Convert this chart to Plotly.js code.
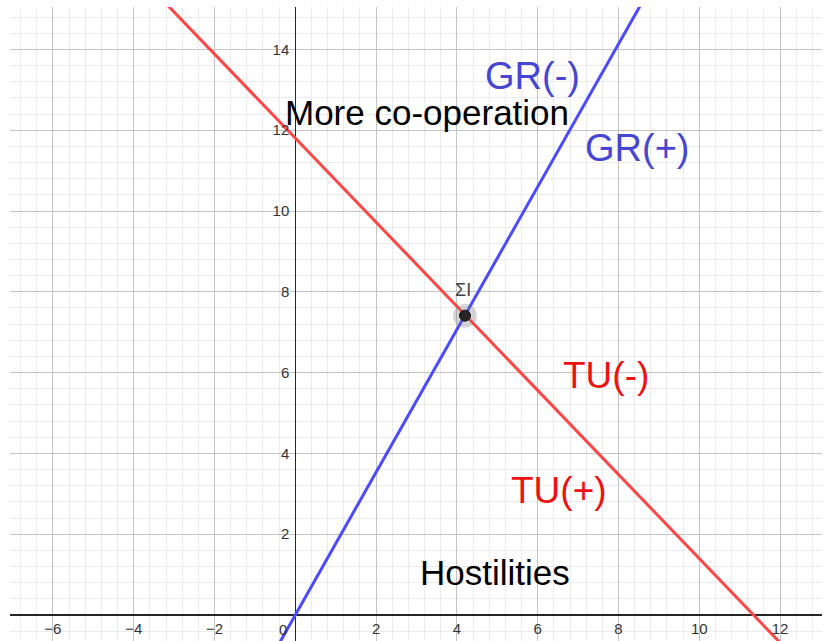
<!DOCTYPE html>
<html>
<head>
<meta charset="utf-8">
<script src="https://cdn.plot.ly/plotly-3.0.1.min.js"></script>
<style>html,body{margin:0;padding:0;background:#fff;}#chart{width:824px;height:641px;}</style>
</head>
<body>
<div id="chart"></div>
<script>
// Line endpoints
const tuX = [-3.6, 12.6];
const tuY = [15.55, -1.31];
const grX = [-0.6, 9.0];
const grY = [-1.06, 15.9];
// Equilibrium point
const eqX = [4.2];
const eqY = [7.41];
const eqLabel = ["ΣI"];
// Tick values / labels
const xTicks = [-6, -4, -2, 2, 4, 6, 8, 10, 12];
const yTicks = [2, 4, 6, 8, 10, 12, 14];
// Region / curve labels
const labelText = ["More co-operation", "GR(-)", "GR(+)", "TU(-)", "TU(+)", "Hostilities"];
const labelX = [3.26, 5.87, 8.46, 7.69, 6.53, 4.94];
const labelY = [12.43, 13.33, 11.57, 5.94, 3.09, 1.04];
const labelColor = ["#000000", "#4646d2", "#4646d2", "#ee1111", "#ee1111", "#000000"];
const labelSize = [35, 38, 38, 37, 37, 35];

const traces = [
  {x: tuX, y: tuY, mode: 'lines', line: {color: '#ff4646', width: 3}, hoverinfo: 'skip'},
  {x: grX, y: grY, mode: 'lines', line: {color: '#4a4aff', width: 3}, hoverinfo: 'skip'},
  {x: eqX, y: eqY, mode: 'markers', marker: {size: 24, color: 'rgba(120,120,120,0.3)'}, hoverinfo: 'skip'},
  {x: eqX, y: eqY, mode: 'markers', marker: {size: 11, color: '#262626', line: {color: '#111', width: 1}}, hoverinfo: 'skip'}
];

const annotations = labelText.map((t, i) => ({
  x: labelX[i], y: labelY[i], xref: 'x', yref: 'y', text: t, showarrow: false,
  xanchor: 'center', yanchor: 'middle',
  font: {family: 'Liberation Sans, Arial, sans-serif', size: labelSize[i], color: labelColor[i]}
}));
annotations.push({x: eqX[0], y: eqY[0], xref: 'x', yref: 'y', text: eqLabel[0], showarrow: false,
  xanchor: 'center', yanchor: 'middle', yshift: 26, xshift: -2,
  font: {family: 'Liberation Sans, Arial, sans-serif', size: 18, color: '#444'}});
annotations.push({x: 0, y: 0, xref: 'x', yref: 'y', text: '0', showarrow: false,
  xanchor: 'right', yanchor: 'top', xshift: -6, yshift: -4,
  font: {family: 'Liberation Sans, Arial, sans-serif', size: 15, color: '#333'}});

const xr = [-7.062, 13.037];
const yr = [-0.644, 15.05];

const layout = {
  width: 824, height: 641,
  margin: {l: 10, r: 2, t: 7, b: 0},
  paper_bgcolor: '#fff', plot_bgcolor: '#fff',
  showlegend: false,
  xaxis: {
    range: xr, fixedrange: true,
    tickvals: xTicks, ticktext: xTicks.map(v => v < 0 ? '−' + (-v) : String(v)),
    showgrid: true, gridcolor: '#c4c4c4', gridwidth: 1,
    minor: {dtick: 0.4, tick0: 0, showgrid: true, gridcolor: '#ebebeb', gridwidth: 1},
    zeroline: true, zerolinecolor: '#252525', zerolinewidth: 1.5,
    showline: false, ticks: '',
    anchor: 'free', position: (0 - yr[0]) / (yr[1] - yr[0]),
    tickfont: {family: 'Liberation Sans, Arial, sans-serif', size: 15, color: '#333'},
    ticklabelstandoff: 3
  },
  yaxis: {
    range: yr, fixedrange: true,
    tickvals: yTicks, ticktext: yTicks.map(String),
    showgrid: true, gridcolor: '#c4c4c4', gridwidth: 1,
    minor: {dtick: 0.4, tick0: 0, showgrid: true, gridcolor: '#ebebeb', gridwidth: 1},
    zeroline: true, zerolinecolor: '#252525', zerolinewidth: 1.5,
    showline: false, ticks: '',
    anchor: 'free', position: (0 - xr[0]) / (xr[1] - xr[0]),
    tickfont: {family: 'Liberation Sans, Arial, sans-serif', size: 15, color: '#333'},
    ticklabelstandoff: 6
  },
  annotations: annotations
};

Plotly.newPlot('chart', traces, layout, {displayModeBar: false, staticPlot: true});
</script>
</body>
</html>
